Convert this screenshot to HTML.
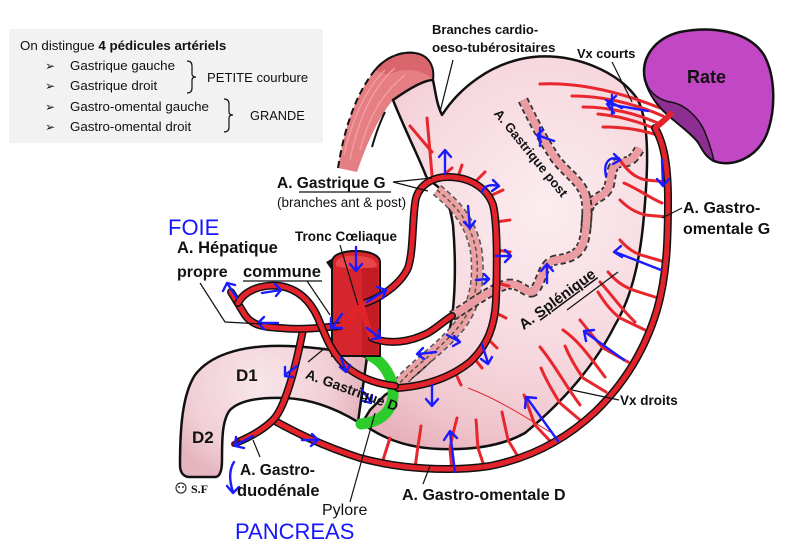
<!DOCTYPE html>
<html><head><meta charset="utf-8"><style>
html,body{margin:0;padding:0;background:#fff;}
svg{display:block;}
text{font-family:"Liberation Sans",Arial,sans-serif;fill:#111;}
.ao{fill:none;stroke:#111;stroke-width:8;stroke-linecap:round;stroke-linejoin:round}
.ar{fill:none;stroke:#e2232b;stroke-width:5;stroke-linecap:round;stroke-linejoin:round}
.rv{fill:none;stroke:#e8262d;stroke-width:3;stroke-linecap:round}
.bl{fill:none;stroke:#1b1bff;stroke-width:2.4;stroke-linecap:round;stroke-linejoin:round}
.ll{stroke:#111;stroke-width:1.2;fill:none}
.b{font-weight:bold}
</style></head><body>
<svg width="801" height="542" viewBox="0 0 801 542" xmlns="http://www.w3.org/2000/svg">
<defs>
<radialGradient id="sg" gradientUnits="userSpaceOnUse" cx="545" cy="210" r="270">
<stop offset="0" stop-color="#fbedf0"/>
<stop offset="0.55" stop-color="#f6d8de"/>
<stop offset="0.85" stop-color="#efc4cc"/>
<stop offset="1" stop-color="#e7b0bc"/>
</radialGradient>
<radialGradient id="dg" gradientUnits="userSpaceOnUse" cx="260" cy="385" r="100">
<stop offset="0" stop-color="#f8e6ea"/>
<stop offset="0.7" stop-color="#f1cfd6"/>
<stop offset="1" stop-color="#e6b6c0"/>
</radialGradient>
<path id="a1" d="M 365,303 C 380,298 400,285 408,268 C 414,250 412,215 416,198 C 420,185 432,177 448,177 C 470,177 487,188 493,205 C 498,225 497,270 496,300 C 495,325 488,345 470,362 C 450,378 425,386 398,388"/>
<path id="a2" d="M 238,303 C 245,290 262,284 280,286 C 298,289 310,300 318,318 C 326,338 333,356 348,368 C 362,379 378,384 395,386"/>
<path id="a3" d="M 340,326 C 320,328 300,330 280,328 C 262,327 252,325 245,315 C 240,307 236,300 231,292"/>
<path id="a4" d="M 303,330 C 300,345 295,370 288,390 C 283,405 278,415 273,420 C 265,428 252,436 238,442"/>
<path id="a5" d="M 273,420 C 295,432 320,445 360,458 C 400,469 450,472 490,466 C 530,458 565,440 595,412 C 625,383 645,350 657,310 C 667,275 668,240 668,200 C 668,170 665,145 655,128"/>
<path id="a6" d="M 372,338 C 390,345 410,342 428,333 C 438,327 445,320 452,316"/>
<path id="b1" d="M 437,190 C 455,205 470,220 476,250 C 480,280 475,305 460,325 C 440,350 415,365 398,385"/>
<path id="b2" d="M 452,316 C 470,305 490,290 505,285 C 520,280 528,298 535,290 C 542,280 543,262 556,260 C 570,258 580,255 584,240 C 588,225 584,212 592,202 C 600,195 608,195 610,182 C 612,170 612,162 624,162 C 632,162 636,155 640,148"/>
<path id="b3" d="M 523,100 C 532,118 540,135 555,158 C 565,172 580,180 585,195 C 588,205 587,218 586,228"/>
</defs>

<!-- info box -->
<rect x="9" y="29" width="314" height="114" fill="#f2f2f2"/>
<text x="20" y="50" font-size="13.3">On distingue <tspan class="b">4 pédicules artériels</tspan></text>
<text x="45" y="70" font-size="12">➢</text>
<text x="70" y="70" font-size="13.3">Gastrique gauche</text>
<text x="45" y="90" font-size="12">➢</text>
<text x="70" y="90" font-size="13.3">Gastrique droit</text>
<text x="45" y="111" font-size="12">➢</text>
<text x="70" y="111" font-size="13.3">Gastro-omental gauche</text>
<text x="45" y="131" font-size="12">➢</text>
<text x="70" y="131" font-size="13.3">Gastro-omental droit</text>
<text x="207" y="82" font-size="13.1">PETITE courbure</text>
<text x="250" y="120" font-size="12.8">GRANDE</text>
<path d="M 187,61 Q 192,61 192,66 L 192,74 Q 192,77 196,77 Q 192,77 192,80 L 192,88 Q 192,93 187,93" class="ll" stroke-width="1"/>
<path d="M 224,99 Q 229,99 229,104 L 229,112 Q 229,115 233,115 Q 229,115 229,118 L 229,127 Q 229,132 224,132" class="ll" stroke-width="1"/>

<!-- esophagus muscle band -->
<path d="M 338,168 C 344,130 355,95 375,70 C 385,58 400,51 415,53 C 428,55 435,65 433,80 C 422,84 405,90 393,100 C 380,115 368,140 357,172 Z" fill="#e57f84"/>
<path d="M 375,70 C 385,58 400,51 415,53 C 428,55 435,65 433,80 C 425,70 405,66 388,75 Z" fill="#d9666c"/>
<path d="M 350,160 C 358,120 372,88 395,68 M 344,155 C 352,120 365,90 385,70 M 360,150 C 368,120 380,95 405,75" stroke="#f2a3a6" stroke-width="1.2" fill="none"/>
<path d="M 338,168 C 344,130 355,95 375,70 C 385,58 400,51 415,53" fill="none" stroke="#111" stroke-width="2" stroke-dasharray="7 4"/>
<path d="M 375,70 C 385,58 400,51 415,53 C 428,55 435,65 433,80" fill="none" stroke="#111" stroke-width="2"/>
<path d="M 372,147 C 376,133 380,122 385,112" fill="none" stroke="#111" stroke-width="2"/>

<!-- stomach -->
<path d="M 393,100 C 410,88 425,80 433,80 C 436,95 437,105 442,115 C 458,90 490,62 533,57 C 575,53 620,72 638,100 C 650,125 648,170 644,215 C 640,265 630,300 615,325 C 595,365 565,400 525,433 C 500,447 470,450 440,449 C 405,448 380,437 362,423 L 370,410 L 385,395 L 397,387 C 415,378 440,355 448,335 C 456,310 456,260 453,225 C 450,205 445,192 437,186 C 432,182 428,180 426,176 C 420,160 405,130 393,100 Z" fill="url(#sg)" stroke="#111" stroke-width="2.5" stroke-linejoin="round"/>

<!-- duodenum -->
<path d="M 367,357 C 340,350 300,345 270,346 C 240,347 210,355 195,375 C 182,395 180,430 180,465 C 180,473 184,477 190,477 L 215,477 C 220,477 222,470 222,460 C 222,440 222,420 230,410 C 240,400 260,397 285,398 C 310,399 335,408 358,422 Z" fill="url(#dg)" stroke="#111" stroke-width="2.5" stroke-linejoin="round"/>

<!-- pink dashed posterior bands -->
<use href="#b1" fill="none" stroke="#555" stroke-width="13" stroke-dasharray="5 3"/>
<use href="#b1" fill="none" stroke="#eba0a6" stroke-width="10"/>
<use href="#b1" fill="none" stroke="#553" stroke-width="1.5" stroke-dasharray="4 3"/>
<use href="#b2" fill="none" stroke="#333" stroke-width="11" stroke-dasharray="5 3"/>
<use href="#b2" fill="none" stroke="#eb9ca2" stroke-width="7.5"/>
<use href="#b3" fill="none" stroke="#333" stroke-width="11" stroke-dasharray="5 3"/>
<use href="#b3" fill="none" stroke="#eb9ca2" stroke-width="7.5"/>

<!-- vasa recta greater curvature -->
<g class="rv">
<path d="M 668,182 L 646,180 C 636,178 628,172 620,160"/>
<path d="M 668,217 L 645,215 C 635,212 628,208 620,200"/>
<path d="M 665,262 L 641,255 C 632,252 626,247 620,240"/>
<path d="M 658,298 L 633,290 C 622,286 615,280 608,272"/>
<path d="M 645,330 L 620,318 C 612,312 604,302 598,292"/>
<path d="M 628,362 L 603,348 C 596,340 588,330 580,320"/>
<path d="M 606,392 L 583,378 C 576,368 570,358 565,346"/>
<path d="M 580,420 L 560,403 C 553,392 546,380 541,368"/>
<path d="M 552,443 L 535,425 C 531,415 528,405 524,395"/>
<path d="M 520,460 L 508,440 C 506,430 504,422 502,412"/>
<path d="M 485,469 L 478,448 C 477,438 477,430 476,420"/>
<path d="M 452,471 L 450,449 C 451,440 454,430 457,418"/>
<path d="M 415,468 L 418,446 C 419,440 420,434 421,426"/>
<path d="M 383,460 L 390,438"/>
<path d="M 600,282 C 612,295 622,310 635,322"/>
<path d="M 563,330 C 578,340 590,357 605,377"/>
<path d="M 540,347 C 555,365 565,385 580,405"/>
<path d="M 624,183 C 640,190 650,198 662,203"/>
</g>
<path d="M 468,388 C 500,400 530,420 550,432" stroke="#e8262d" stroke-width="1" fill="none"/>

<!-- short gastric vessels -->
<g class="rv">
<path d="M 540,84 C 580,82 620,92 660,108"/>
<path d="M 572,96 C 605,96 635,104 663,116"/>
<path d="M 583,107 C 610,107 638,114 660,124"/>
<path d="M 598,114 C 620,116 640,122 658,130"/>
<path d="M 603,127 C 625,127 642,130 657,135"/>
</g>

<!-- arch ticks and esophageal branches -->
<g class="rv" stroke-width="2.5">
<path d="M 458,177 L 462,165"/>
<path d="M 475,182 L 485,172"/>
<path d="M 490,196 L 503,190"/>
<path d="M 496,222 L 510,220"/>
<path d="M 497,250 L 510,252"/>
<path d="M 497,283 L 509,286"/>
<path d="M 494,312 L 506,318"/>
<path d="M 487,338 L 497,348"/>
<path d="M 473,357 L 482,368"/>
<path d="M 455,372 L 461,385"/>
<path d="M 432,175 L 427,118"/>
<path d="M 410,126 L 432,152"/>
<path d="M 440,178 L 452,168"/>
</g>

<!-- pylorus -->
<path d="M 371,356 C 388,365 396,385 392,402 C 388,415 378,422 361,424" fill="none" stroke="#2dcc2d" stroke-width="11" stroke-linecap="round"/>

<!-- gastro-omental artery -->
<use href="#a5" class="ao"/><use href="#a5" class="ar"/>

<!-- celiac trunk -->
<path d="M 332,262 C 332,254 344,251 356,251 C 369,251 380,255 380,262 L 380,356 L 332,356 Z" fill="#d6252d" stroke="#111" stroke-width="2"/>
<path d="M 336,262 C 340,256 350,255 360,256 C 370,257 376,260 377,266 C 370,270 350,270 336,266 Z" fill="#e8454b"/>
<rect x="362" y="268" width="16" height="86" fill="#c41c24"/>
<path d="M 326,262 L 333,258 L 333,272 Z" fill="#111"/>

<!-- arteries -->
<use href="#a1" class="ao"/><use href="#a1" class="ar"/>
<use href="#a6" class="ao"/><use href="#a6" class="ar"/>
<use href="#a4" class="ao"/><use href="#a4" class="ar"/>
<use href="#a3" class="ao"/><use href="#a3" class="ar"/>
<use href="#a2" class="ao"/><use href="#a2" class="ar"/>
<path d="M 238,442 L 234,444" stroke="#6a0f12" stroke-width="6" stroke-linecap="round"/>
<path d="M 360,300 C 356,310 352,322 340,326 M 360,300 C 364,315 368,328 372,338" stroke="#e2232b" stroke-width="6" fill="none"/>

<!-- spleen -->
<path d="M 645,80 C 640,58 655,38 680,32 C 710,26 748,30 764,55 C 776,77 776,112 766,136 C 756,158 732,168 714,161 C 705,156 703,150 698,142 C 690,132 678,124 668,115 C 658,106 650,96 645,80 Z" fill="#c247c5" stroke="#111" stroke-width="2.5" stroke-linejoin="round"/>
<path d="M 646,84 C 652,95 660,100 670,102 C 685,104 700,118 706,135 C 710,145 712,152 714,161 C 705,156 703,150 698,142 C 690,132 678,124 668,115 C 658,106 650,96 646,84 Z" fill="#8e2e93" stroke="#111" stroke-width="1.5"/>
<path d="M 655,128 C 662,122 668,118 672,112" stroke="#e2232b" stroke-width="6" fill="none"/>

<!-- blue arrows -->
<g class="bl">
<path d="M 445,174 L 445,150 M 439,157 L 445,150 L 451,157"/>
<path d="M 482,192 C 484,186 490,184 499,186 M 493,180 L 499,186 L 492,191"/>
<path d="M 468,206 L 470,228 M 464,222 L 470,228 L 475,221"/>
<path d="M 496,256 L 511,256 M 505,250 L 511,256 L 505,262"/>
<path d="M 476,280 L 489,279 M 484,274 L 489,279 L 484,284"/>
<path d="M 554,141 L 537,135 M 543,130 L 537,135 L 541,142 M 540,128 L 540,146"/>
<path d="M 648,111 L 608,104 M 616,96 L 607,104 L 614,113 M 606,100 L 622,108 M 612,95 L 612,114"/>
<path d="M 606,176 C 603,162 610,155 620,160 M 614,154 L 620,160 L 613,164"/>
<path d="M 662,160 L 663,186 M 657,179 L 663,186 L 669,179"/>
<path d="M 661,270 L 615,252 M 621,246 L 614,252 L 622,257"/>
<path d="M 547,283 L 547,265 M 541,271 L 547,264 L 553,271"/>
<path d="M 624,360 L 585,332 M 586,341 L 584,331 L 594,330"/>
<path d="M 558,441 L 527,398 M 525,408 L 526,397 L 536,398"/>
<path d="M 455,472 L 450,432 M 444,440 L 450,431 L 457,438"/>
<path d="M 432,385 L 432,406 M 426,399 L 432,406 L 438,399"/>
<path d="M 482,344 L 488,363 M 481,359 L 488,364 L 492,357"/>
<path d="M 436,352 L 418,354 M 423,348 L 417,354 L 424,359"/>
<path d="M 447,335 L 460,342 M 454,336 L 460,342 L 453,346"/>
<path d="M 237,298 L 227,283 M 223,291 L 227,283 L 235,285"/>
<path d="M 262,293 L 281,290 M 275,284 L 281,290 L 276,296"/>
<path d="M 278,323 L 258,323 M 264,317 L 258,323 L 264,329"/>
<path d="M 342,314 L 332,328 M 331,318 L 331,328 L 342,328"/>
<path d="M 367,302 L 386,290 M 377,287 L 386,290 L 383,298"/>
<path d="M 367,328 L 380,338 M 372,339 L 380,338 L 379,330"/>
<path d="M 356,247 L 356,271 M 350,264 L 356,271 L 362,264"/>
<path d="M 341,358 L 346,371 M 340,367 L 346,372 L 350,365"/>
<path d="M 362,390 L 371,402 M 363,401 L 371,403 L 372,395"/>
<path d="M 297,366 L 285,375 M 285,367 L 285,376 L 293,377"/>
<path d="M 253,436 L 236,445 M 236,437 L 235,446 L 244,448"/>
<path d="M 302,440 L 318,440 M 312,434 L 318,440 L 311,446"/>
<path d="M 234,462 C 229,470 229,480 233,492 M 227,486 L 233,493 L 239,487"/>
</g>
<text x="168" y="235" font-size="22" style="fill:#1515ff">FOIE</text>
<text x="235" y="539" font-size="22" style="fill:#1515ff">PANCREAS</text>

<!-- leader lines -->
<g class="ll">
<path d="M 453,60 L 440,112"/>
<path d="M 612,62 L 632,102"/>
<path d="M 682,208 L 662,218"/>
<path d="M 619,400 L 572,390"/>
<path d="M 423,484 L 430,466"/>
<path d="M 350,502 L 375,413"/>
<path d="M 260,457 L 253,440"/>
<path d="M 200,283 L 225,322 L 262,324"/>
<path d="M 307,281 L 330,315"/>
<path d="M 340,245 L 358,305"/>
<path d="M 393,182 L 432,178 M 393,182 L 428,191"/>
<path d="M 308,362 L 325,348"/>
</g>

<!-- labels -->
<text x="432" y="34" font-size="13" class="b">Branches cardio-</text>
<text x="432" y="52" font-size="13.3" class="b">oeso-tubérositaires</text>
<text x="577" y="58" font-size="12.8" class="b">Vx courts</text>
<text x="687" y="83" font-size="18" class="b">Rate</text>
<text x="683" y="213" font-size="16" class="b">A. Gastro-</text>
<text x="683" y="234" font-size="16" class="b">omentale G</text>
<text transform="translate(531,153) rotate(51)" text-anchor="middle" dy="0.35em" font-size="13" class="b">A. Gastrique post</text>
<text transform="translate(557,299) rotate(-36.5)" text-anchor="middle" dy="0.35em" font-size="15" class="b">A. <tspan text-decoration="underline">Splénique</tspan></text>
<path d="M 567,310 L 618,272" class="ll"/>
<text x="620" y="405" font-size="13.5" class="b">Vx droits</text>
<text x="402" y="500" font-size="16" class="b">A. Gastro-omentale D</text>
<text x="322" y="515" font-size="16">Pylore</text>
<text x="240" y="475" font-size="15.5" class="b">A. Gastro-</text>
<text x="237" y="496" font-size="16.5" class="b">duodénale</text>
<text x="236" y="381" font-size="17" class="b">D1</text>
<text x="192" y="443" font-size="17" class="b">D2</text>
<text transform="translate(352,390) rotate(20)" text-anchor="middle" dy="0.35em" font-size="14" class="b">A. Gastrique D</text>
<text x="295" y="241" font-size="13.5" class="b">Tronc Cœliaque</text>
<text x="177" y="253" font-size="16.5" class="b">A. Hépatique</text>
<text x="177" y="277" font-size="16" class="b">propre</text>
<text x="243" y="277" font-size="16.5" class="b">commune</text>
<path d="M 243,281 L 322,281" class="ll"/>
<text x="277" y="188" font-size="15.5" class="b">A. Gastrique G</text>
<path d="M 299,192 L 391,192" class="ll"/>
<text x="277" y="207" font-size="13.5">(branches ant &amp; post)</text>
<circle cx="181" cy="488" r="5" fill="none" stroke="#333" stroke-width="1.2"/>
<circle cx="179" cy="487" r="1" fill="#333"/><circle cx="183" cy="487" r="1" fill="#333"/>
<text x="191" y="493" font-size="12" style="font-family:'Liberation Serif',serif;font-weight:bold;">S.F</text>
</svg>
</body></html>
